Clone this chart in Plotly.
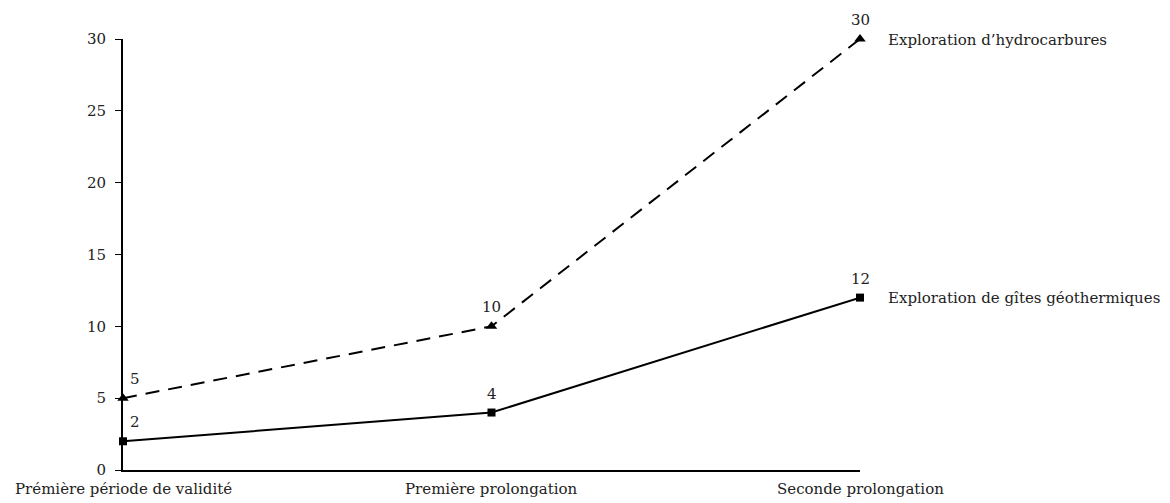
import plotly.graph_objects as go

categories = ["Prémière période de validité", "Première prolongation", "Seconde prolongation"]
hydrocarbures = [5, 10, 30]
geothermiques = [2, 4, 12]
series_names = ["Exploration d\u2019hydrocarbures", "Exploration de gîtes géothermiques"]
y_ticks = [0, 5, 10, 15, 20, 25, 30]

FONT = dict(family="DejaVu Serif, Liberation Serif, serif", size=15, color="#222222")
x_idx = list(range(len(categories)))

fig = go.Figure()
fig.add_trace(go.Scatter(
    x=x_idx, y=hydrocarbures, mode="lines+markers", name=series_names[0],
    line=dict(color="black", width=2, dash="14px,9px"),
    marker=dict(symbol="triangle-up", size=10, color="black"),
    cliponaxis=False,
))
fig.add_trace(go.Scatter(
    x=x_idx, y=geothermiques, mode="lines+markers", name=series_names[1],
    line=dict(color="black", width=2),
    marker=dict(symbol="square", size=8, color="black"),
    cliponaxis=False,
))

annotations = []
# value labels above each point (first category shifted right of the axis)
for series in (hydrocarbures, geothermiques):
    for i, v in enumerate(series):
        annotations.append(dict(
            x=i, y=v, text=str(v), showarrow=False, xref="x", yref="y",
            xanchor="center", yanchor="bottom",
            xshift=12 if i == 0 else 0, yshift=8,
            font=FONT,
        ))
# series names at the right end of each line
for name, series, yshift in ((series_names[0], hydrocarbures, -1), (series_names[1], geothermiques, 0)):
    annotations.append(dict(
        x=len(categories) - 1, y=series[-1], text=name, showarrow=False,
        xref="x", yref="y", xanchor="left", yanchor="middle",
        xshift=26, yshift=yshift, font=FONT,
    ))
# category labels below the axis
for i, c in enumerate(categories):
    annotations.append(dict(
        x=i, y=0, text=c, showarrow=False, xref="x", yref="y",
        xanchor="center", yanchor="top", yshift=-8, font=FONT,
    ))

fig.update_layout(
    width=1170, height=503,
    margin=dict(l=123, r=310, t=39, b=33),
    paper_bgcolor="white", plot_bgcolor="white",
    showlegend=False,
    font=FONT,
    annotations=annotations,
    xaxis=dict(
        range=[0, len(categories) - 1], showgrid=False, zeroline=False,
        showline=True, linecolor="black", linewidth=2, showticklabels=False,
        ticks="", fixedrange=True,
    ),
    yaxis=dict(
        range=[0, 30], tickvals=y_ticks, showgrid=False, zeroline=False,
        showline=True, linecolor="black", linewidth=2,
        ticks="outside", ticklen=6, tickwidth=1, tickcolor="black",
        ticklabelstandoff=6, tickfont=FONT, fixedrange=True,
    ),
)

fig.write_html("out.html")
